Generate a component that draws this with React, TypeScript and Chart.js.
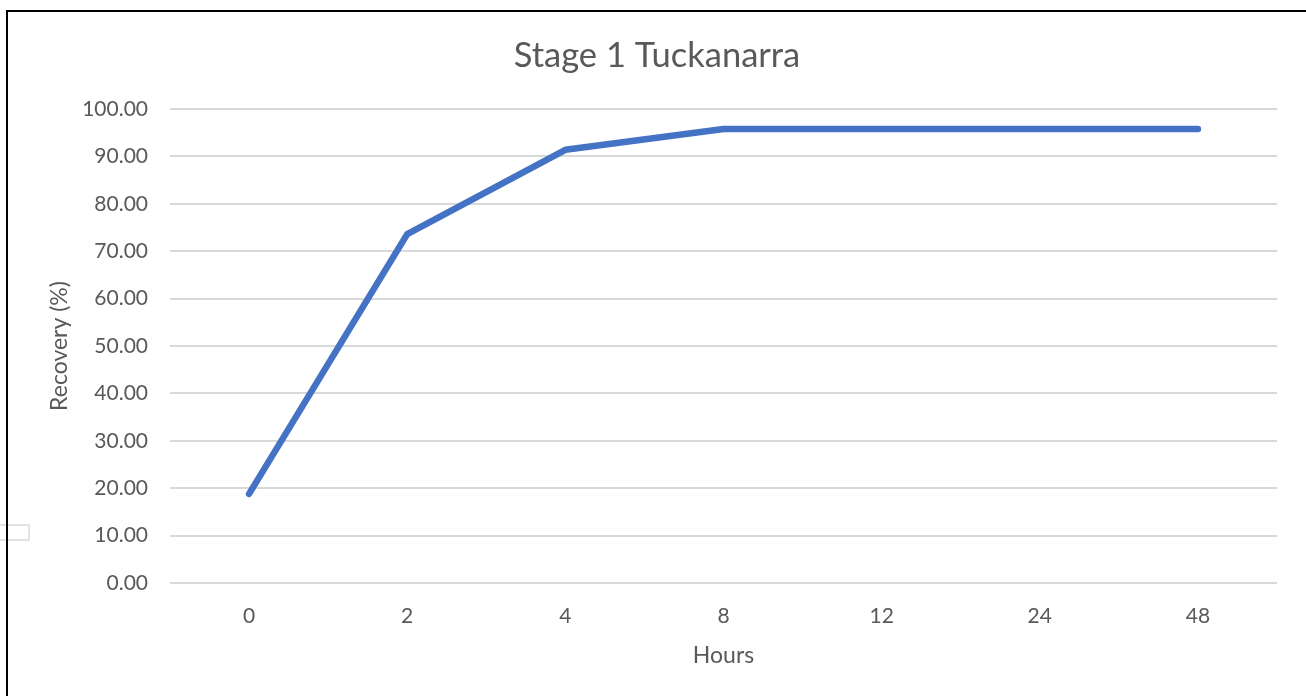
import React, { useEffect, useRef } from "react";
import { Chart, registerables } from "chart.js";

Chart.register(...registerables);

const chartTitle = "Stage 1 Tuckanarra";
const hours = ["0", "2", "4", "8", "12", "24", "48"];
const recovery = [18.8, 73.6, 91.4, 95.8, 95.8, 95.8, 95.8];
const xAxisTitle = "Hours";
const yAxisTitle = "Recovery (%)";

const FONT = "Lato, 'Noto Sans', sans-serif";
const TEXT = "#595959";
const GRID = "#d9d9d9";

const titlePlugin = {
  id: "centerTitle",
  afterDraw(chart: any) {
    const ctx = chart.ctx;
    ctx.save();
    ctx.font = `34.5px ${FONT}`;
    ctx.fillStyle = TEXT;
    ctx.textAlign = "center";
    ctx.textBaseline = "middle";
    ctx.fillText(chartTitle, 657, 56);
    ctx.restore();
  },
};

export default function App() {
  const ref = useRef<HTMLCanvasElement | null>(null);
  useEffect(() => {
    if (!ref.current) return;
    const chart = new Chart(ref.current, {
      type: "line",
      data: {
        labels: hours,
        datasets: [
          {
            label: "Recovery",
            data: recovery,
            borderColor: "#4472C4",
            backgroundColor: "#4472C4",
            borderWidth: 6.5,
            pointRadius: 0,
            tension: 0,
            borderJoinStyle: "round",
            borderCapStyle: "round",
          },
        ],
      },
      options: {
        responsive: false,
        animation: false,
        layout: { padding: { top: 109, right: 29, left: 0, bottom: 0 } },
        plugins: {
          legend: { display: false },
          tooltip: { enabled: false },
          title: { display: false },
        },
        scales: {
          x: {
            type: "category",
            offset: true,
            grid: { display: false },
            border: { display: false },
            ticks: { color: TEXT, font: { family: FONT, size: 21 }, padding: 13 },
            title: {
              display: true,
              text: xAxisTitle,
              color: TEXT,
              font: { family: FONT, size: 23 },
              padding: { top: 0, bottom: 27 },
            },
            afterFit: (s: any) => {
              s.height = 113;
            },
          },
          y: {
            min: 0,
            max: 100,
            ticks: {
              stepSize: 10,
              color: TEXT,
              font: { family: FONT, size: 21 },
              padding: 22,
              callback: (v: any) => Number(v).toFixed(2),
            },
            grid: { color: GRID, lineWidth: 2, drawTicks: false },
            border: { display: false },
            title: {
              display: true,
              text: yAxisTitle,
              color: TEXT,
              font: { family: FONT, size: 23 },
              padding: { top: 46, bottom: 0 },
            },
            afterFit: (s: any) => {
              s.width = 170;
            },
          },
        },
      },
      plugins: [titlePlugin],
    });
    return () => chart.destroy();
  }, []);

  return (
    <div style={{ position: "fixed", left: 0, top: 0, width: 1306, height: 696, background: "#fff", overflow: "hidden" }}>
      <canvas ref={ref} width={1306} height={696} style={{ position: "absolute", left: 0, top: 0 }} />
      <div style={{ position: "absolute", left: -2, top: 524, width: 28, height: 13, border: "2px solid #e3e3e3" }} />
      <div style={{ position: "absolute", left: 6, top: 10, width: 1298, height: 700, borderLeft: "2px solid #000", borderTop: "2px solid #000", borderRight: "1px solid #bbb" }} />
    </div>
  );
}
